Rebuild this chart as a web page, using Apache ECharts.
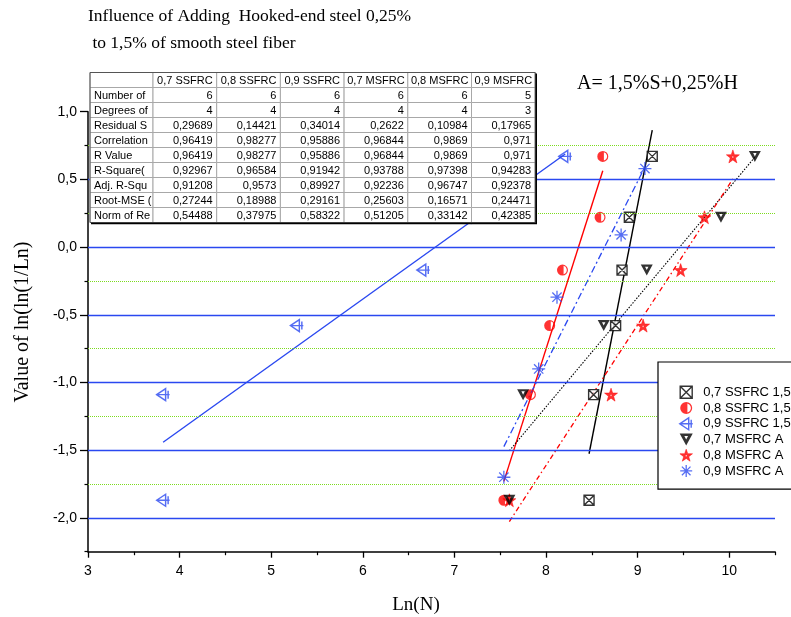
<!DOCTYPE html>
<html><head><meta charset="utf-8">
<script src="https://cdn.jsdelivr.net/npm/echarts@6/dist/echarts.min.js"></script>
<style>html,body{margin:0;padding:0;background:#fff}#c{width:791px;height:617px}</style>
</head><body><div id="c"></div>
<script>
// ---------- data ----------
const seriesNames = ['0,7 SSFRC 1,5%S', '0,8 SSFRC 1,5%S', '0,9 SSFRC 1,5%S', '0,7 MSFRC A', '0,8 MSFRC A', '0,9 MSFRC A'];
const ssfrc07X = [8.47, 8.52, 8.76, 8.83, 8.91, 9.16];
const ssfrc07Y = [-1.87, -1.09, -0.58, -0.17, 0.22, 0.67];
const ssfrc08X = [7.54, 7.83, 8.04, 8.18, 8.59, 8.62];
const ssfrc08Y = [-1.87, -1.09, -0.58, -0.17, 0.22, 0.67];
const ssfrc09X = [3.82, 3.82, 5.28, 6.66, 7.15, 8.21];
const ssfrc09Y = [-1.87, -1.09, -0.58, -0.17, 0.22, 0.67];
const msfrc07X = [7.60, 7.75, 8.63, 9.10, 9.91, 10.28];
const msfrc07Y = [-1.87, -1.09, -0.58, -0.17, 0.22, 0.67];
const msfrc08X = [7.60, 8.71, 9.06, 9.47, 9.73, 10.04];
const msfrc08Y = [-1.87, -1.09, -0.58, -0.17, 0.22, 0.67];
const msfrc09X = [7.54, 7.92, 8.12, 8.82, 9.08];
const msfrc09Y = [-1.70, -0.90, -0.37, 0.09, 0.58];

const xMajorTicks = [3, 4, 5, 6, 7, 8, 9, 10];
const xMinorTicks = [3.5, 4.5, 5.5, 6.5, 7.5, 8.5, 9.5, 10.5];
const yMajorTicks = [-2.0, -1.5, -1.0, -0.5, 0.0, 0.5, 1.0];
const yMinorTicks = [-2.25, -1.75, -1.25, -0.75, -0.25, 0.25, 0.75];
const majorGridValues = [-2.0, -1.5, -1.0, -0.5, 0.0, 0.5];
const minorGridValues = [-1.75, -1.25, -0.75, -0.25, 0.25, 0.75];

// statistics table
const tableColumns = ['0,7 SSFRC', '0,8 SSFRC', '0,9 SSFRC', '0,7 MSFRC', '0,8 MSFRC', '0,9 MSFRC'];
const tableRowLabels = ['Number of', 'Degrees of', 'Residual S', 'Correlation', 'R Value', 'R-Square(', 'Adj. R-Squ', 'Root-MSE (', 'Norm of Re'];
const numberOfPoints = ['6', '6', '6', '6', '6', '5'];
const degreesOfFreedom = ['4', '4', '4', '4', '4', '3'];
const residualSS = ['0,29689', '0,14421', '0,34014', '0,2622', '0,10984', '0,17965'];
const correlation = ['0,96419', '0,98277', '0,95886', '0,96844', '0,9869', '0,971'];
const rValue = ['0,96419', '0,98277', '0,95886', '0,96844', '0,9869', '0,971'];
const rSquare = ['0,92967', '0,96584', '0,91942', '0,93788', '0,97398', '0,94283'];
const adjRSquare = ['0,91208', '0,9573', '0,89927', '0,92236', '0,96747', '0,92378'];
const rootMSE = ['0,27244', '0,18988', '0,29161', '0,25603', '0,16571', '0,24471'];
const normOfResiduals = ['0,54488', '0,37975', '0,58322', '0,51205', '0,33142', '0,42385'];

const titleLines = ['Influence of Adding  Hooked-end steel 0,25%', ' to 1,5% of smooth steel fiber'];
const mixLabel = 'A= 1,5%S+0,25%H';
const xAxisTitle = 'Ln(N)';
const yAxisTitle = 'Value of ln(ln(1/Ln)';

// ---------- styling ----------
const BLUE = '#2a48f0', RED = '#ff0000', BLACK = '#000000', GREEN = '#7ddc1f';
const SERIF = '"Liberation Serif", "Times New Roman", serif';
const SANS = '"Liberation Sans", Arial, sans-serif';

const symBoxX = 'path://M0,0L10,0L10,10L0,10Z M0,0L10,10 M10,0L0,10';
const symHalfCircle = 'path://M0,-10A10,10,0,1,1,0,10A10,10,0,1,1,0,-10Z M2,-7.7L2,7.7A8,8,0,0,0,2,-7.7Z';
const symLeftTri = 'path://M-6,0L3,-6L3,6Z M-6,0L7,0 M5.5,-4L5.5,4';
const symDownTri = 'path://M-6,-5L6,-5L0,6Z M-1.7,-2.9L0,0.5L1.7,-2.9Z';
const symStar = 'path://M0,-10L2.35,-3.24L9.51,-3.09L3.8,1.24L5.88,8.09L0,4L-5.88,8.09L-3.8,1.24L-9.51,-3.09L-2.35,-3.24Z M0,-1.6L-1.5,-0.5L-0.95,1.3L0.95,1.3L1.5,-0.5Z';
const symAster = 'path://M0,-6L0,6 M-6,0L6,0 M-4.3,-4.3L4.3,4.3 M4.3,-4.3L-4.3,4.3';

const defs = [
  {xs: ssfrc07X, ys: ssfrc07Y, sym: symBoxX, size: [10, 10], item: {color: '#fff', borderColor: BLACK, borderWidth: 1.4}, line: {color: BLACK, width: 1.4, type: 'solid'}},
  {xs: ssfrc08X, ys: ssfrc08Y, sym: symHalfCircle, size: [11, 11], item: {color: RED, borderWidth: 0}, line: {color: RED, width: 1.4, type: 'solid'}},
  {xs: ssfrc09X, ys: ssfrc09Y, sym: symLeftTri, size: [13, 12], item: {color: 'rgba(0,0,0,0)', borderColor: BLUE, borderWidth: 1.4}, line: {color: BLUE, width: 1.4, type: 'solid'}},
  {xs: msfrc07X, ys: msfrc07Y, sym: symDownTri, size: [12, 11], item: {color: BLACK, borderWidth: 0}, line: {color: BLACK, width: 1.1, type: [1.5, 1.5]}},
  {xs: msfrc08X, ys: msfrc08Y, sym: symStar, size: [13, 13], item: {color: RED, borderColor: RED, borderWidth: 0.6}, line: {color: RED, width: 1.3, type: [5, 3, 1.5, 3]}},
  {xs: msfrc09X, ys: msfrc09Y, sym: symAster, size: [13, 13], item: {color: 'rgba(0,0,0,0)', borderColor: BLUE, borderWidth: 1.3}, line: {color: BLUE, width: 1.3, type: [7, 3, 2, 3]}}
];

function linearFit(xs, ys) {
  const n = xs.length;
  let mx = 0, my = 0;
  for (let i = 0; i < n; i++) { mx += xs[i]; my += ys[i]; }
  mx /= n; my /= n;
  let sxy = 0, sxx = 0;
  for (let i = 0; i < n; i++) { sxy += (xs[i] - mx) * (ys[i] - my); sxx += (xs[i] - mx) ** 2; }
  const b = sxy / sxx, a = my - b * mx;
  const x0 = Math.min(...xs), x1 = Math.max(...xs);
  return [[x0, a + b * x0], [x1, a + b * x1]];
}

const fmt = v => v.toFixed(1).replace('.', ',');

const series = [];
// grid lines (drawn through the y axis scale)
series.push({
  type: 'line', data: [], silent: true, z: 1, xAxisIndex: 0, yAxisIndex: 0,
  markLine: {
    silent: true, symbol: ['none', 'none'], animation: false, label: {show: false},
    data: majorGridValues.map(v => ({yAxis: v, lineStyle: {color: BLUE, width: 1.3, type: 'solid'}}))
      .concat(minorGridValues.map(v => ({yAxis: v, lineStyle: {color: GREEN, width: 1, type: [1, 1]}})))
  }
});
defs.forEach((d, i) => {
  series.push({
    name: seriesNames[i] + ' fit', type: 'line', data: linearFit(d.xs, d.ys), showSymbol: false, symbol: 'none',
    silent: true, z: 3, lineStyle: d.line, itemStyle: {color: d.line.color}
  });
});
defs.forEach((d, i) => {
  series.push({
    name: seriesNames[i], type: 'scatter', data: d.xs.map((x, k) => [x, d.ys[k]]),
    symbol: d.sym, symbolSize: d.size, itemStyle: d.item, z: 4 + (i === 3 ? 2 : 0)
  });
});

// ---------- table (graphic) ----------
const tableRows = [numberOfPoints, degreesOfFreedom, residualSS, correlation, rValue, rSquare, adjRSquare, rootMSE, normOfResiduals];
const tX = 90, tY = 72.5, firstW = 63, colW = 63.7, rowH = 15;
const graphics = [];
const totalW = firstW + colW * tableColumns.length;
const totalH = rowH * (tableRows.length + 1);
graphics.push({type: 'rect', shape: {x: tX, y: tY, width: totalW, height: totalH}, style: {fill: '#fff', stroke: null}, z: 100, silent: true});
for (let r = 0; r <= tableRows.length; r++) {
  for (let c = 0; c <= tableColumns.length; c++) {
    const x = c === 0 ? tX : tX + firstW + (c - 1) * colW;
    const w = c === 0 ? firstW : colW;
    const y = tY + r * rowH;
    graphics.push({type: 'rect', shape: {x: x, y: y, width: w, height: rowH}, style: {fill: '#fff', stroke: '#a8a8a8', lineWidth: 1}, z: 101, silent: true});
    let txt = '', align = 'right', tx = x + w - 4;
    if (r === 0 && c > 0) { txt = tableColumns[c - 1]; align = 'center'; tx = x + w / 2; }
    else if (r > 0 && c === 0) { txt = tableRowLabels[r - 1]; align = 'left'; tx = x + 4; }
    else if (r > 0) { txt = tableRows[r - 1][c - 1]; }
    if (txt) {
      graphics.push({type: 'text', x: tx, y: y + rowH / 2 + 0.5, z: 103, silent: true,
        style: {text: txt, fontSize: 11, fontFamily: SANS, fill: '#000', align: align, textAlign: align, verticalAlign: 'middle', textVerticalAlign: 'middle'}});
    }
  }
}
graphics.push({type: 'rect', shape: {x: tX, y: tY, width: totalW, height: totalH}, style: {fill: null, stroke: '#555', lineWidth: 1}, z: 104, silent: true});
graphics.push({type: 'polyline', shape: {points: [[tX + totalW + 1, tY + 1], [tX + totalW + 1, tY + totalH + 1], [tX + 1, tY + totalH + 1]]}, style: {fill: null, stroke: '#000', lineWidth: 1.6}, z: 104, silent: true});

// titles and labels
graphics.push({type: 'text', x: 88, y: 16, z: 110, style: {text: titleLines[0], fontSize: 17.5, fontFamily: SERIF, fill: '#000', align: 'left', textAlign: 'left', verticalAlign: 'middle', textVerticalAlign: 'middle'}});
graphics.push({type: 'text', x: 88, y: 43, z: 110, style: {text: titleLines[1], fontSize: 17.5, fontFamily: SERIF, fill: '#000', align: 'left', textAlign: 'left', verticalAlign: 'middle', textVerticalAlign: 'middle'}});
graphics.push({type: 'text', x: 577, y: 84, z: 110, style: {text: mixLabel, fontSize: 20, fontFamily: SERIF, fill: '#000', align: 'left', textAlign: 'left', verticalAlign: 'middle', textVerticalAlign: 'middle'}});
graphics.push({type: 'text', x: 416, y: 605, z: 110, style: {text: xAxisTitle, fontSize: 19, fontFamily: SERIF, fill: '#000', align: 'center', textAlign: 'center', verticalAlign: 'middle', textVerticalAlign: 'middle'}});
graphics.push({type: 'text', x: 23, y: 322, rotation: Math.PI / 2, z: 110, style: {text: yAxisTitle, fontSize: 20, fontFamily: SERIF, fill: '#000', align: 'center', textAlign: 'center', verticalAlign: 'middle', textVerticalAlign: 'middle'}});

const legendData = defs.map((d, i) => ({name: seriesNames[i], icon: d.sym, itemStyle: d.item}));

const option = {
  animation: false,
  backgroundColor: '#fff',
  grid: {left: 88, right: 16, top: 111.7, bottom: 65.3, containLabel: false},
  xAxis: [
    {type: 'value', min: 3, max: 10.5,
      axisLine: {onZero: false, lineStyle: {color: '#000', width: 1.5}},
      axisTick: {show: true, customValues: xMajorTicks, length: 6, lineStyle: {color: '#000', width: 1.3}},
      axisLabel: {customValues: xMajorTicks, fontSize: 14, fontFamily: SANS, color: '#000', margin: 12, formatter: v => String(v)},
      splitLine: {show: false}},
    {type: 'value', min: 3, max: 10.5, position: 'bottom', offset: 0,
      axisLine: {show: false, onZero: false},
      axisTick: {show: true, customValues: xMinorTicks, length: 3.5, lineStyle: {color: '#000', width: 1.2}},
      axisLabel: {show: false}, splitLine: {show: false}}
  ],
  yAxis: [
    {type: 'value', min: -2.25, max: 1.0,
      axisLine: {show: true, onZero: false, lineStyle: {color: '#000', width: 1.5}},
      axisTick: {show: true, customValues: yMajorTicks, length: 8, lineStyle: {color: '#000', width: 1.3}},
      axisLabel: {customValues: yMajorTicks, fontSize: 14, fontFamily: SANS, color: '#000', margin: 11, formatter: fmt},
      splitLine: {show: false}},
    {type: 'value', min: -2.25, max: 1.0, position: 'left', offset: 0,
      axisLine: {show: false, onZero: false},
      axisTick: {show: true, customValues: yMinorTicks, length: 3.5, lineStyle: {color: '#000', width: 1.2}},
      axisLabel: {show: false}, splitLine: {show: false}}
  ],
  legend: {
    orient: 'vertical', left: 658, top: 362, padding: [23.5, 40, 11.5, 21],
    itemWidth: 24, itemHeight: 12, itemGap: 2.6, selectedMode: false,
    backgroundColor: '#fff', borderColor: '#000', borderWidth: 1.2,
    textStyle: {fontSize: 13, fontFamily: SANS, color: '#000'},
    data: legendData, z: 50
  },
  graphic: {elements: graphics},
  series: series
};

const chart = echarts.init(document.getElementById('c'), null, {renderer: 'canvas'});
chart.setOption(option);
</script>
</body></html>
